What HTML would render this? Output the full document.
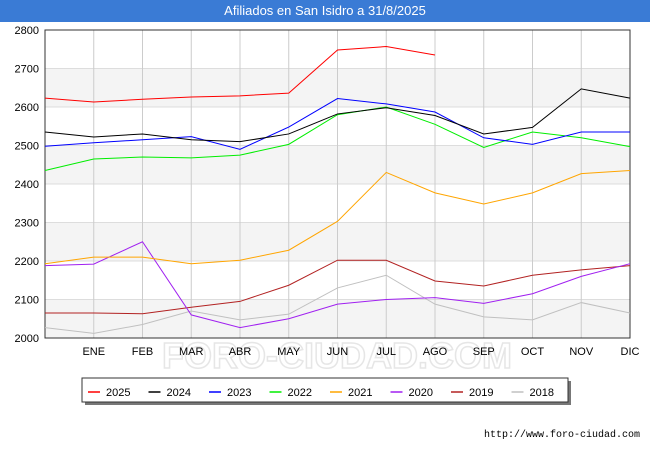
<!DOCTYPE html>
<html><head><meta charset="utf-8"><style>
body{margin:0;background:#fff;font-family:"Liberation Sans",sans-serif;}
#wrap{position:relative;width:650px;height:450px;}
#title{position:absolute;left:0;top:0;width:650px;height:22px;background:#3a7bd5;color:#fff;font-size:13px;line-height:22px;text-align:center;}
</style></head><body>
<div id="wrap">
<div id="title">Afiliados en San Isidro a 31/8/2025</div>
<svg id="svg" width="650" height="450" style="position:absolute;left:0;top:0"></svg>
</div>
<script>
const categories=["","ENE","FEB","MAR","ABR","MAY","JUN","JUL","AGO","SEP","OCT","NOV","DIC"];
const yTicks=[2000,2100,2200,2300,2400,2500,2600,2700,2800];
const seriesNames=["2025","2024","2023","2022","2021","2020","2019","2018"];
const seriesColors=["#ff0000","#000000","#0000ff","#00ee00","#ffa500","#a020f0","#b22222","#c0c0c0"];
const s2025=[2623,2613,2620,2626,2629,2636,2748,2757,2735];
const s2024=[2535,2522,2530,2515,2510,2530,2582,2598,2578,2530,2547,2647,2623];
const s2023=[2498,2507,2515,2523,2490,2548,2622,2608,2587,2520,2503,2535,2535];
const s2022=[2435,2465,2470,2468,2475,2503,2580,2600,2555,2495,2535,2520,2497];
const s2021=[2193,2210,2210,2193,2202,2228,2303,2430,2377,2348,2377,2427,2435];
const s2020=[2188,2192,2250,2060,2027,2050,2088,2100,2105,2090,2115,2160,2193];
const s2019=[2065,2065,2063,2080,2095,2137,2202,2202,2148,2135,2163,2177,2188];
const s2018=[2027,2012,2035,2070,2047,2062,2130,2163,2088,2055,2047,2092,2065];
const allSeries=[s2025,s2024,s2023,s2022,s2021,s2020,s2019,s2018];
const NS="http://www.w3.org/2000/svg";
const svg=document.getElementById('svg');
const L=45,R=630,T=30,B=338;
const x=i=>L+i*(R-L)/(categories.length-1);
const y=v=>B-(v-2000)*(B-T)/800;
function mk(t,a){const e=document.createElementNS(NS,t);for(const k in a)e.setAttribute(k,a[k]);svg.appendChild(e);return e;}
for(let i=0;i<yTicks.length-1;i+=2){
 const r=mk('rect',{x:L,y:y(yTicks[i+1]),width:R-L,height:y(yTicks[i])-y(yTicks[i+1]),fill:'#f4f4f4'});
 
 
}
const wm=mk('text',{x:337,y:368,'text-anchor':'middle','font-size':36,fill:'none',stroke:'#e6e6e6','stroke-width':1.5,'font-weight':'bold'});
wm.textContent='FORO-CIUDAD.COM';


yTicks.forEach(v=>{
 const l=mk('line',{x1:L,x2:R,y1:y(v),y2:y(v),stroke:'#ddd'});
 
 
 const t=mk('text',{x:L-6,y:y(v)+4,'text-anchor':'end','font-size':11,fill:'#000'});
 t.textContent=v;
 
 
});
categories.forEach((c,i)=>{
 const l=mk('line',{x1:x(i),x2:x(i),y1:T,y2:B,stroke:'#ccc'});
 
 
 const t=mk('text',{x:x(i),y:B+17,'text-anchor':'middle','font-size':11,fill:'#000'});
 t.textContent=c;
 
 
});
const fr=mk('rect',{x:L,y:T,width:R-L,height:B-T,fill:'none',stroke:'#333'});


for(let s=allSeries.length-1;s>=0;s--){
 const p=mk('polyline',{points:allSeries[s].map((v,i)=>x(i)+','+y(v)).join(' '),fill:'none',stroke:seriesColors[s],'stroke-width':1});
 
 
}
const sh=mk('rect',{x:85,y:381,width:486,height:24,fill:'#777'});


const lg=mk('rect',{x:82,y:378,width:486,height:24,fill:'#fff',stroke:'#333'});


seriesNames.forEach((n,i)=>{
 const lx=88+i*60.5;
 const l=mk('line',{x1:lx,x2:lx+12,y1:392,y2:392,stroke:seriesColors[i],'stroke-width':1.5});
 
 
 const t=mk('text',{x:lx+18,y:396,'font-size':11,fill:'#000'});
 t.textContent=n;
 
 
});
const u=mk('text',{x:640,y:437,'text-anchor':'end','font-size':10,fill:'#000','font-family':'Liberation Mono, monospace'});
u.textContent='http://www.foro-ciudad.com';


</script>
</body></html>
